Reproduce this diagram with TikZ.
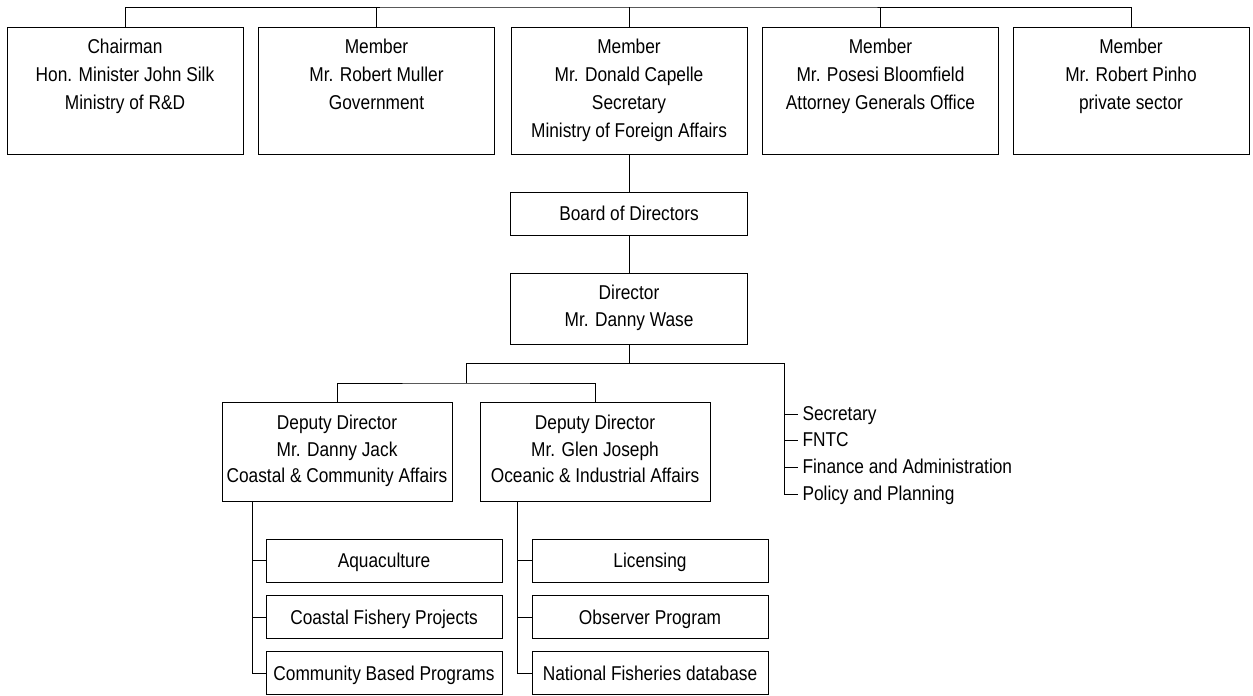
\documentclass[tikz,border=0pt]{standalone}
\usepackage{fontspec}
\setmainfont{Liberation Sans}[FakeStretch=0.865]
\newcommand{\boxstrut}{\rule[-5pt]{0pt}{24pt}}
\begin{document}
\begin{tikzpicture}[x=1pt,y=-1pt,line width=1pt,
  chartfont/.style={font=\fontsize{20}{26.5}\selectfont},
  box/.style={draw=black, fill=white, inner sep=2pt, align=center, chartfont,
    execute at begin node=\boxstrut, execute at end node=\boxstrut},
  topbox/.style={box, font=\fontsize{20}{28}\selectfont, minimum width=236pt, minimum height=127pt},
  midbox/.style={box, minimum width=237pt, minimum height=43pt},
  dirbox/.style={box, minimum width=237pt, minimum height=71pt},
  depbox/.style={box, minimum width=230pt, minimum height=99pt},
  subbox/.style={box, minimum width=236pt, minimum height=43pt},
  listitem/.style={anchor=west, inner xsep=4pt, inner ysep=0pt, chartfont, text height=14pt, text depth=2pt}]
\useasboundingbox[fill=white] (0,0) rectangle (1253,696);

% top row
\node[topbox] (b1) at (125,90.5) {Chairman\\Hon. Minister John Silk\\Ministry of R\&D\\\mbox{}};
\node[topbox] (b2) at (376.5,90.5) {Member\\Mr. Robert Muller\\Government\\\mbox{}};
\node[topbox] (b3) at (629,90.5) {Member\\Mr. Donald Capelle\\Secretary\\Ministry of Foreign Affairs};
\node[topbox] (b4) at (880.5,90.5) {Member\\Mr. Posesi Bloomfield\\Attorney Generals Office\\\mbox{}};
\node[topbox] (b5) at (1131,90.5) {Member\\Mr. Robert Pinho\\private sector\\\mbox{}};

\coordinate (t) at (629,7);
\draw (b1.north) |- (t) -| (b5.north);
\draw (b2.north) -- (b2.north |- t);
\draw (b3.north) -- (b3.north |- t);
\draw (b4.north) -- (b4.north |- t);

% board and director
\node[midbox] (board) at (629,213.5) {Board of Directors};
\node[dirbox] (dir) at (629,308.5) {Director\\Mr. Danny Wase};
\draw (b3.south) -- (board.north);
\draw (board.south) -- (dir.north);

\coordinate (j1) at (629,363);
\coordinate (j2) at (466,363);
\coordinate (j3) at (784,363);
\coordinate (j4) at (466,383);
\draw (dir.south) -- (j1);
\draw (j2) -- (j3);
\draw (j2) -- (j4);

% deputies
\node[depbox] (d1) at (337,451.5) {Deputy Director\\Mr. Danny Jack\\Coastal \& Community Affairs};
\node[depbox] (d2) at (595,451.5) {Deputy Director\\Mr. Glen Joseph\\Oceanic \& Industrial Affairs};
\draw (d1.north) |- (j4) -| (d2.north);

% staff list
\node[listitem] (l1) at (798,414) {Secretary};
\node[listitem] (l2) at (798,440.5) {FNTC};
\node[listitem] (l3) at (798,467) {Finance and Administration};
\node[listitem] (l4) at (798,494) {Policy and Planning};
\draw (j3) |- (l4.west);
\draw (j3 |- l1.west) -- (l1.west);
\draw (j3 |- l2.west) -- (l2.west);
\draw (j3 |- l3.west) -- (l3.west);

% units under deputy 1
\node[subbox] (a1) at (384,560.5) {Aquaculture};
\node[subbox] (a2) at (384,617) {Coastal Fishery Projects};
\node[subbox] (a3) at (384,673) {Community Based Programs};
\coordinate (s1) at (252,501);
\draw (s1) |- (a3.west);
\draw (s1 |- a1.west) -- (a1.west);
\draw (s1 |- a2.west) -- (a2.west);

% units under deputy 2
\node[subbox] (c1) at (650,560.5) {Licensing};
\node[subbox] (c2) at (650,617) {Observer Program};
\node[subbox] (c3) at (650,673) {National Fisheries database};
\coordinate (s2) at (517,501);
\draw (s2) |- (c3.west);
\draw (s2 |- c1.west) -- (c1.west);
\draw (s2 |- c2.west) -- (c2.west);
\end{tikzpicture}
\end{document}
